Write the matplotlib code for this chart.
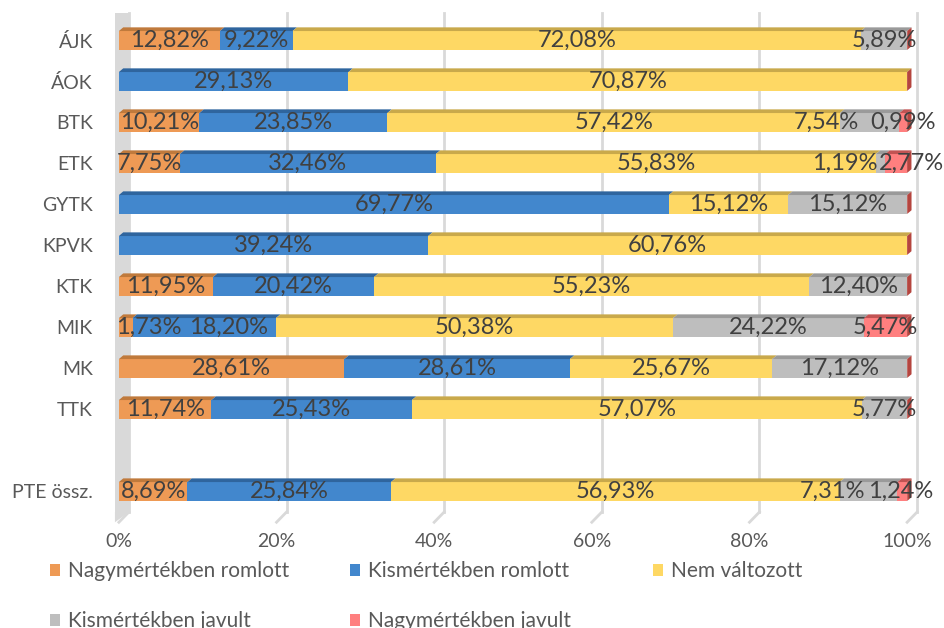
import numpy as np
import matplotlib
matplotlib.use("Agg")
import matplotlib.pyplot as plt
from matplotlib.patches import Polygon, Patch
import matplotlib.transforms as mtransforms

plt.rcParams['font.family'] = ['Lato', 'DejaVu Sans']

categories = ["ÁJK", "ÁOK", "BTK", "ETK", "GYTK", "KPVK", "KTK", "MIK", "MK", "TTK", "PTE össz."]
series_names = ["Nagymértékben romlott", "Kismértékben romlott", "Nem változott",
                "Kismértékben javult", "Nagymértékben javult"]
nagy_romlott = [12.82, 0, 10.21, 7.75, 0, 0, 11.95, 1.73, 28.61, 11.74, 8.69]
kis_romlott = [9.22, 29.13, 23.85, 32.46, 69.77, 39.24, 20.42, 18.20, 28.61, 25.43, 25.84]
nem_valtozott = [72.08, 70.87, 57.42, 55.83, 15.12, 60.76, 55.23, 50.38, 25.67, 57.07, 56.93]
kis_javult = [5.89, 0, 7.54, 1.19, 15.12, 0, 12.40, 24.22, 17.12, 5.77, 7.31]
nagy_javult = [0, 0, 0.99, 2.77, 0, 0, 0, 5.47, 0, 0, 1.24]
x_ticks = [0, 20, 40, 60, 80, 100]
x_tick_labels = ["0%", "20%", "40%", "60%", "80%", "100%"]

series = [nagy_romlott, kis_romlott, nem_valtozott, kis_javult, nagy_javult]
front_colors = ['#EE9A55', '#4287CD', '#FED864', '#BEBEBE', '#FF7F7F']
top_colors = ['#C07A3C', '#2F659E', '#C9A94B', '#9A9A9A', '#C25353']
cap_color = '#B5453F'
label_color = '#404040'
tick_color = '#595959'

# label nudges in pixels (series index, row index) -> dx (overlap avoidance as in original)
nudges = {(3, 2): -43, (3, 3): -36, (4, 3): 15, (0, 7): 23, (1, 7): 24,
          (3, 10): -36, (4, 10): -2}

W, H = 944, 628
fig = plt.figure(figsize=(W / 100, H / 100), dpi=100)
ax = fig.add_axes([111 / W, 1 - 512 / H, (915 - 111) / W, (512 - 13) / H])

n = len(categories)
pos = np.array(list(range(n - 1)) + [n])  # blank slot before total
ytop, ybot = -0.67, n + 0.5
ax.set_xlim(-1, 101)
ax.set_ylim(ybot, ytop)

# gridlines on the back wall (shifted right) with a short slanted floor part
back = mtransforms.offset_copy(ax.transData, fig=fig, x=10, y=0, units='dots')
for t in x_ticks:
    ax.plot([t, t], [ybot, ytop], color='#D9D9D9', lw=2, transform=back, zorder=0,
            clip_on=False)
    ax.plot([t + 1.27, t], [ybot, ybot + 0.25], color='#D9D9D9', lw=2, zorder=0,
            clip_on=False)
# left wall
ax.axvspan(-0.5, 1.3, color='#D9D9D9', zorder=0.5, lw=0)
ax.add_patch(Polygon([(-0.5, ybot), (1.3, ybot), (-0.5, ybot + 0.25)], closed=True,
                     color='#D9D9D9', lw=0, zorder=0.5, clip_on=False))

h = 0.46
dx, dy = 0.55, 0.09
left = np.zeros(n)
for si, (vals, fc, tc) in enumerate(zip(series, front_colors, top_colors)):
    vals = np.array(vals, dtype=float)
    ax.barh(pos, vals, left=left, height=h, color=fc, lw=0, zorder=2)
    for i in range(n):
        if vals[i] <= 0:
            continue
        l, r = left[i], left[i] + vals[i]
        yt = pos[i] - h / 2
        ax.add_patch(Polygon([(l, yt), (r, yt), (r + dx, yt - dy), (l + dx, yt - dy)],
                             closed=True, color=tc, lw=0, zorder=2))
        txt = f"{vals[i]:.2f}%".replace('.', ',')
        ax.annotate(txt, (l + vals[i] / 2, pos[i]), xytext=(nudges.get((si, i), 0), 0),
                    textcoords='offset pixels', ha='center', va='center',
                    fontsize=17, color=label_color, zorder=5)
    left = left + vals

# right end caps
for i in range(n):
    r = left[i]
    yt = pos[i] - h / 2
    yb = pos[i] + h / 2
    ax.add_patch(Polygon([(r, yt), (r + dx, yt - dy), (r + dx, yb - dy), (r, yb)],
                         closed=True, color=cap_color, lw=0, zorder=3))

ax.set_yticks(pos)
ax.set_yticklabels(categories, fontsize=14, color=tick_color)
ax.set_xticks(x_ticks)
ax.set_xticklabels(x_tick_labels, fontsize=14, color=tick_color)
ax.tick_params(axis='both', length=0)
ax.tick_params(axis='x', pad=15)
ax.tick_params(axis='y', pad=13)
for s in ax.spines.values():
    s.set_visible(False)

handles = [Patch(facecolor=c, edgecolor='none') for c in front_colors]
# legend laid out row-wise in three columns
columns = [[0, 3], [1, 4], [2]]
col_x = [50, 350, 653]
for cx, idxs in zip(col_x, columns):
    fig.legend([handles[k] for k in idxs], [series_names[k] for k in idxs],
               loc='upper left', bbox_to_anchor=(cx / W, 1 - 561 / H),
               ncol=1, frameon=False, fontsize=15, handlelength=0.5, handleheight=0.5,
               handletextpad=0.35, labelspacing=1.44, borderpad=0,
               borderaxespad=0, labelcolor=tick_color)

fig.savefig("out.png", dpi=100)
